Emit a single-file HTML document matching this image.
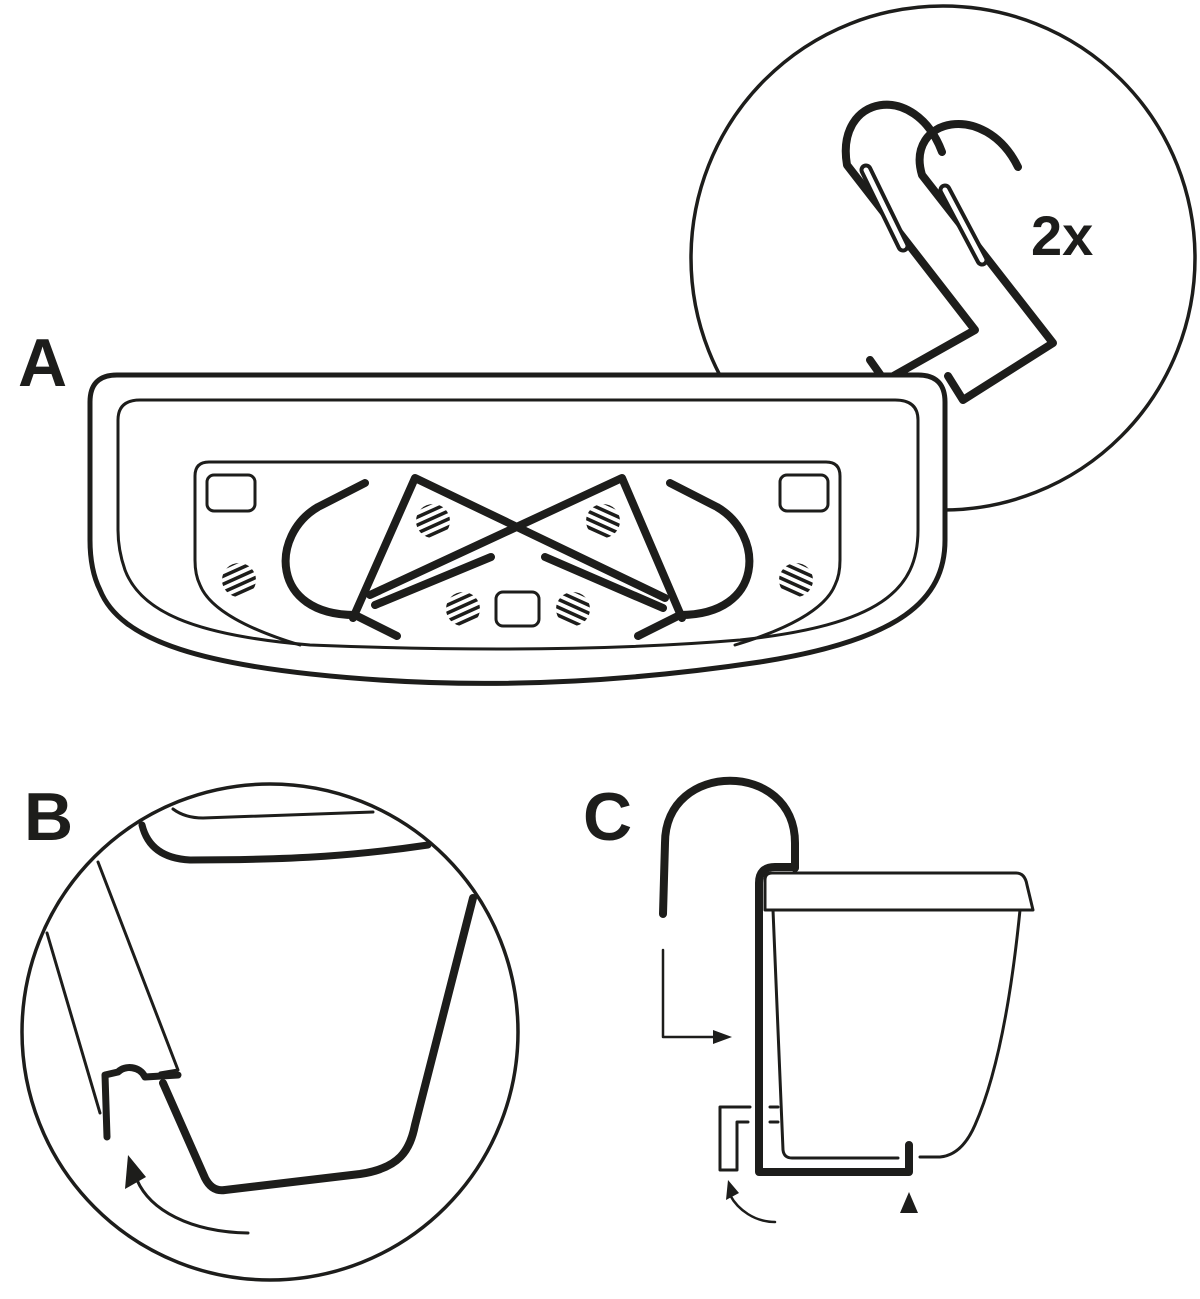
<!DOCTYPE html>
<html><head><meta charset="utf-8"><style>
html,body{margin:0;padding:0;background:#fff;}
svg{display:block;}
text{font-family:"Liberation Sans",sans-serif;fill:#1d1d1b;}
</style></head><body>
<svg width="1200" height="1299" viewBox="0 0 1200 1299" xmlns="http://www.w3.org/2000/svg">
<defs>
<g id="hatchL"><line x1="-20" y1="-10" x2="20" y2="-28" /><line x1="-20" y1="-2" x2="20" y2="-20"/><line x1="-20" y1="6" x2="20" y2="-12"/><line x1="-20" y1="14" x2="20" y2="-4"/><line x1="-20" y1="22" x2="20" y2="4"/><line x1="-20" y1="30" x2="20" y2="12"/></g>
<g id="hatchR"><line x1="-20" y1="-28" x2="20" y2="-10"/><line x1="-20" y1="-20" x2="20" y2="-2"/><line x1="-20" y1="-12" x2="20" y2="6"/><line x1="-20" y1="-4" x2="20" y2="14"/><line x1="-20" y1="4" x2="20" y2="22"/><line x1="-20" y1="12" x2="20" y2="30"/></g>
<clipPath id="cc"><circle cx="0" cy="0" r="17"/></clipPath>
</defs>
<g fill="none" stroke="#1d1d1b" stroke-linecap="round" stroke-linejoin="round">
<circle cx="943" cy="258" r="252" stroke-width="3.5"/>
<g stroke-width="8">
<path d="M942,152 C915,80 835,95 847,165 L975,330 L872,388 L820,418"/>
<path d="M1018,167 C985,100 905,118 922,175 L1053,343 L963,400 L948,376"/>
<path d="M870,360 L882,377"/>
</g>
<g stroke-width="13"><path d="M866,170 L903,246"/><path d="M945,190 L982,260"/></g>
<g stroke-width="5" stroke="#fff"><path d="M866,170 L903,246"/><path d="M945,190 L982,260"/></g>
</g>
<text x="1031" y="255" font-size="56" font-weight="600">2x</text>
<text x="18" y="386" font-size="68" font-weight="700">A</text>
<text x="24" y="840" font-size="68" font-weight="700">B</text>
<text x="583" y="840" font-size="68" font-weight="700">C</text>

<g fill="#fff" stroke="#1d1d1b" stroke-linecap="round" stroke-linejoin="round">
<path stroke-width="5" d="M90,402 Q90,375 117,375 L918,375 Q945,375 945,402 L945,540 C945,600 900,640 760,662 Q560,692 380,680 C200,668 120,640 100,590 Q90,570 90,540 Z"/>
<path stroke-width="3" fill="none" d="M118,420 Q118,400 140,400 L895,400 Q918,400 918,420 L918,530 C918,590 880,625 740,640 Q560,655 310,645 C190,635 140,610 125,570 Q118,550 118,530 Z"/>
<path stroke-width="3" fill="none" d="M300,645 C250,630 210,610 200,585 Q195,575 195,560 L195,476 Q195,462 209,462 L826,462 Q840,462 840,476 L840,560 Q840,575 835,585 C825,610 785,630 735,645"/>
<rect x="207" y="475" width="48" height="36" rx="7" stroke-width="3"/>
<rect x="780" y="475" width="48" height="36" rx="7" stroke-width="3"/>
<rect x="496" y="592" width="43" height="34" rx="7" stroke-width="3"/>
</g>
<g stroke="#1d1d1b" stroke-width="3.5" fill="none">
<g transform="translate(433,521)" clip-path="url(#cc)"><use href="#hatchL"/></g>
<g transform="translate(603,521)" clip-path="url(#cc)"><use href="#hatchR"/></g>
<g transform="translate(239,580)" clip-path="url(#cc)"><use href="#hatchL"/></g>
<g transform="translate(796,580)" clip-path="url(#cc)"><use href="#hatchR"/></g>
<g transform="translate(463,609)" clip-path="url(#cc)"><use href="#hatchL"/></g>
<g transform="translate(573,609)" clip-path="url(#cc)"><use href="#hatchR"/></g>
</g>
<g fill="none" stroke="#1d1d1b" stroke-width="8" stroke-linecap="round" stroke-linejoin="round">
<path d="M365,483 L318,507 C270,535 270,615 355,615 L397,636"/>
<path d="M670,483 L717,507 C765,535 765,615 680,615 L638,636"/>
<path d="M353,618 L415,478 L665,598"/>
<path d="M682,618 L622,478 L370,595"/>
<path d="M375,605 L491,557"/>
<path d="M545,557 L663,608"/>
</g>

<g fill="none" stroke="#1d1d1b" stroke-linecap="round" stroke-linejoin="round">
<circle cx="270" cy="1032" r="248" stroke-width="3.5"/>
<path stroke-width="3" d="M173,809 Q185,818 203,818 L373,812"/>
<path stroke-width="7" d="M142,825 Q150,858 190,860 C300,860 360,855 428,845"/>
<path stroke-width="3" d="M98,862 L178,1070 L160,1073"/>
<path stroke-width="3" d="M47,933 L100,1113"/>
<path stroke-width="7" d="M178,1075 L145,1077 C140,1066 125,1065 118,1072 L105,1075 L107,1137"/>
<path stroke-width="8" d="M163,1083 L205,1178 Q212,1192 225,1190 L360,1174 C400,1168 410,1150 415,1125 L473,898"/>
<path stroke-width="3" d="M248,1233 C190,1232 150,1210 137,1180"/>
</g>
<polygon points="128,1155 125,1189 146,1177" fill="#1d1d1b"/>

<g fill="none" stroke="#1d1d1b" stroke-linecap="round" stroke-linejoin="round">
<path stroke-width="8" d="M663,914 L665,843 C665,760 795,760 795,843 L795,868"/>
<path stroke-width="8" d="M795,867 L775,867 Q759,867 759,883 L759,1172 L909,1172 L909,1145"/>
<path stroke-width="3" d="M765,910 L765,880 Q765,873 772,873 L1016,873 Q1025,873 1027,885 L1033,910 Z"/>
<path stroke-width="3" d="M773,910 L783,1150 Q784,1158 792,1158 L898,1158"/>
<path stroke-width="3" d="M1020,910 C1010,1010 995,1080 975,1125 Q962,1155 940,1157 L920,1157"/>
<path stroke-width="3" d="M750,1107 L720,1107 L720,1170 L737,1170 L737,1122 L748,1122"/>
<path stroke-width="3" d="M770,1107 L778,1107 M770,1122 L778,1122"/>
<path stroke-width="2.5" d="M663,950 L663,1037 L715,1037"/>
<path stroke-width="2.5" d="M775,1222 C755,1222 738,1210 730,1195"/>
</g>
<polygon points="713,1030 732,1037 713,1044" fill="#1d1d1b"/>
<polygon points="728,1180 726,1200 739,1193" fill="#1d1d1b"/>
<polygon points="900,1213 918,1213 909,1192" fill="#1d1d1b"/>
</svg>
</body></html>
